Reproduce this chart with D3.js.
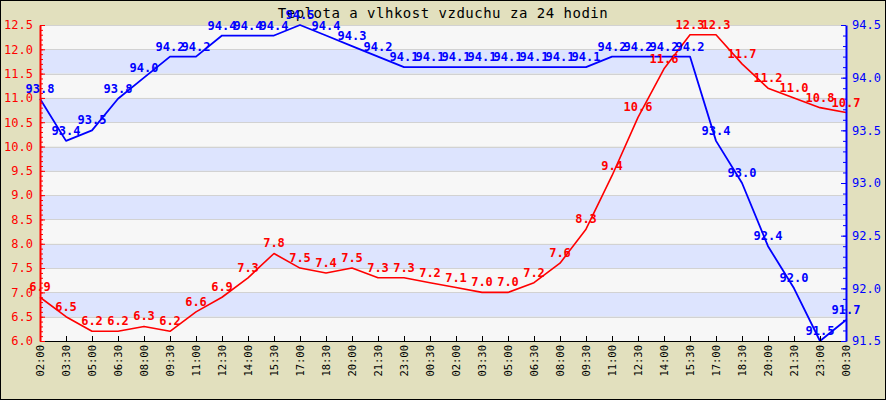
<!DOCTYPE html>
<html>
<head>
<meta charset="utf-8">
<script src="https://cdn.jsdelivr.net/npm/d3@7"></script>
<style>
  html, body { margin: 0; padding: 0; background: #fff; }
  svg { display: block; }
  text { font-family: "DejaVu Sans Mono", "Liberation Mono", monospace; }
</style>
</head>
<body>
<svg id="chart" width="886" height="400"></svg>
<script>
// ---- data ----
const timeLabels = ["02:00","03:30","05:00","06:30","08:00","09:30","11:00","12:30","14:00","15:30",
  "17:00","18:30","20:00","21:30","23:00","00:30","02:00","03:30","05:00","06:30",
  "08:00","09:30","11:00","12:30","14:00","15:30","17:00","18:30","20:00","21:30","23:00","00:30"];
const temperature = [6.9,6.5,6.2,6.2,6.3,6.2,6.6,6.9,7.3,7.8,7.5,7.4,7.5,7.3,7.3,7.2,7.1,7.0,7.0,7.2,
  7.6,8.3,9.4,10.6,11.6,12.3,12.3,11.7,11.2,11.0,10.8,10.7];
const humidity = [93.8,93.4,93.5,93.8,94.0,94.2,94.2,94.4,94.4,94.4,94.5,94.4,94.3,94.2,
  94.1,94.1,94.1,94.1,94.1,94.1,94.1,94.1,94.2,94.2,94.2,94.2,93.4,93.0,92.4,92.0,91.5,91.7];
const tempTicks = [6.0,6.5,7.0,7.5,8.0,8.5,9.0,9.5,10.0,10.5,11.0,11.5,12.0,12.5];
const humTicks = [91.5,92.0,92.5,93.0,93.5,94.0,94.5];
const title = "Teplota a vlhkost vzduchu za 24 hodin";

// ---- layout ----
const W = 886, H = 400;
const L = 40, R = 846, T = 25, B = 341;
const svg = d3.select("#chart");

svg.append("rect").attr("x", 0).attr("y", 0).attr("width", W).attr("height", H).attr("fill", "#E2E0BE");
svg.append("rect").attr("x", 0.5).attr("y", 0.5).attr("width", W - 1).attr("height", H - 1)
  .attr("fill", "none").attr("stroke", "#000");

const idx = d3.range(timeLabels.length);
const x = d3.scalePoint().domain(idx).range([L, R]);
const yT = d3.scaleLinear().domain([6.0, 12.5]).range([B, T]);
const yH = d3.scaleLinear().domain([91.5, 94.5]).range([B, T]);

// bands
const bands = tempTicks.slice(0, -1);
svg.append("g").selectAll("rect").data(bands).join("rect")
  .attr("x", L).attr("width", R - L)
  .attr("y", d => yT(d + 0.5)).attr("height", d => yT(d) - yT(d + 0.5))
  .attr("fill", (d, i) => i % 2 === 0 ? "#F7F7F7" : "#DDE4FE");
// grid
svg.append("g").selectAll("line").data(tempTicks.slice(1)).join("line")
  .attr("x1", L).attr("x2", R)
  .attr("y1", d => Math.round(yT(d)) + 0.5).attr("y2", d => Math.round(yT(d)) + 0.5)
  .attr("stroke", "#D2D2D2").attr("stroke-width", 1);

// title
svg.append("text").attr("x", W / 2).attr("y", 18).attr("text-anchor", "middle")
  .attr("font-size", 14).attr("letter-spacing", 0.5).attr("fill", "#000").text(title);

// lines
const lineT = d3.line().x((d, i) => x(i)).y(d => yT(d));
const lineH = d3.line().x((d, i) => x(i)).y(d => yH(d));
svg.append("path").attr("d", lineT(temperature)).attr("fill", "none")
  .attr("stroke", "#FF0000").attr("stroke-width", 1.6).attr("stroke-linejoin", "round");
svg.append("path").attr("d", lineH(humidity)).attr("fill", "none")
  .attr("stroke", "#0000FF").attr("stroke-width", 1.8).attr("stroke-linejoin", "round");

// bottom axis
const gx = svg.append("g").attr("transform", `translate(0,${B})`)
  .call(d3.axisBottom(x).tickSizeInner(-5).tickSizeOuter(0).tickFormat(i => timeLabels[i]));
gx.select(".domain").attr("stroke", "#000");
gx.selectAll(".tick line").attr("stroke", "#000");
gx.selectAll(".tick text")
  .attr("transform", "rotate(-90)")
  .attr("x", -4).attr("y", 0).attr("dy", "0.35em")
  .attr("text-anchor", "end")
  .attr("font-family", "DejaVu Sans Mono").attr("font-size", 10.5).attr("fill", "#000");

// left axis (temperature)
const minorT = d3.range(60, 126).map(d => d / 10);
svg.append("g").attr("transform", `translate(${L},0)`)
  .call(d3.axisLeft(yT).tickValues(minorT).tickSizeInner(-3).tickSizeOuter(0).tickFormat(""))
  .call(g => { g.select(".domain").remove(); g.selectAll("line").attr("stroke", "#FF0000"); });
const gl = svg.append("g").attr("transform", `translate(${L},0)`)
  .call(d3.axisLeft(yT).tickValues(tempTicks).tickSizeInner(-5).tickSizeOuter(0).tickPadding(7)
    .tickFormat(d3.format(".1f")));
gl.select(".domain").attr("stroke", "#FF0000").attr("stroke-width", 2);
gl.selectAll(".tick line").attr("stroke", "#FF0000");
gl.selectAll(".tick text").attr("fill", "#FF0000").attr("font-family", "DejaVu Sans Mono").attr("font-size", 12);

// right axis (humidity)
const minorH = d3.range(915, 946).map(d => d / 10);
svg.append("g").attr("transform", `translate(${R},0)`)
  .call(d3.axisRight(yH).tickValues(minorH).tickSizeInner(-3).tickSizeOuter(0).tickFormat(""))
  .call(g => { g.select(".domain").remove(); g.selectAll("line").attr("stroke", "#0000FF"); });
const gr = svg.append("g").attr("transform", `translate(${R},0)`)
  .call(d3.axisRight(yH).tickValues(humTicks).tickSizeInner(-5).tickSizeOuter(0).tickPadding(6)
    .tickFormat(d3.format(".1f")));
gr.select(".domain").attr("stroke", "#0000FF").attr("stroke-width", 2);
gr.selectAll(".tick line").attr("stroke", "#0000FF");
gr.selectAll(".tick text").attr("fill", "#0000FF").attr("font-family", "DejaVu Sans Mono").attr("font-size", 12);

// value labels
svg.append("g").selectAll("text").data(temperature).join("text")
  .attr("x", (d, i) => x(i)).attr("y", d => yT(d) - 6)
  .attr("text-anchor", "middle").attr("font-weight", "bold").attr("font-size", 12)
  .attr("fill", "#FF0000").text(d => d3.format(".1f")(d));
svg.append("g").selectAll("text").data(humidity).join("text")
  .attr("x", (d, i) => x(i)).attr("y", d => yH(d) - 6)
  .attr("text-anchor", "middle").attr("font-weight", "bold").attr("font-size", 12)
  .attr("fill", "#0000FF").text(d => d3.format(".1f")(d));
</script>
</body>
</html>
